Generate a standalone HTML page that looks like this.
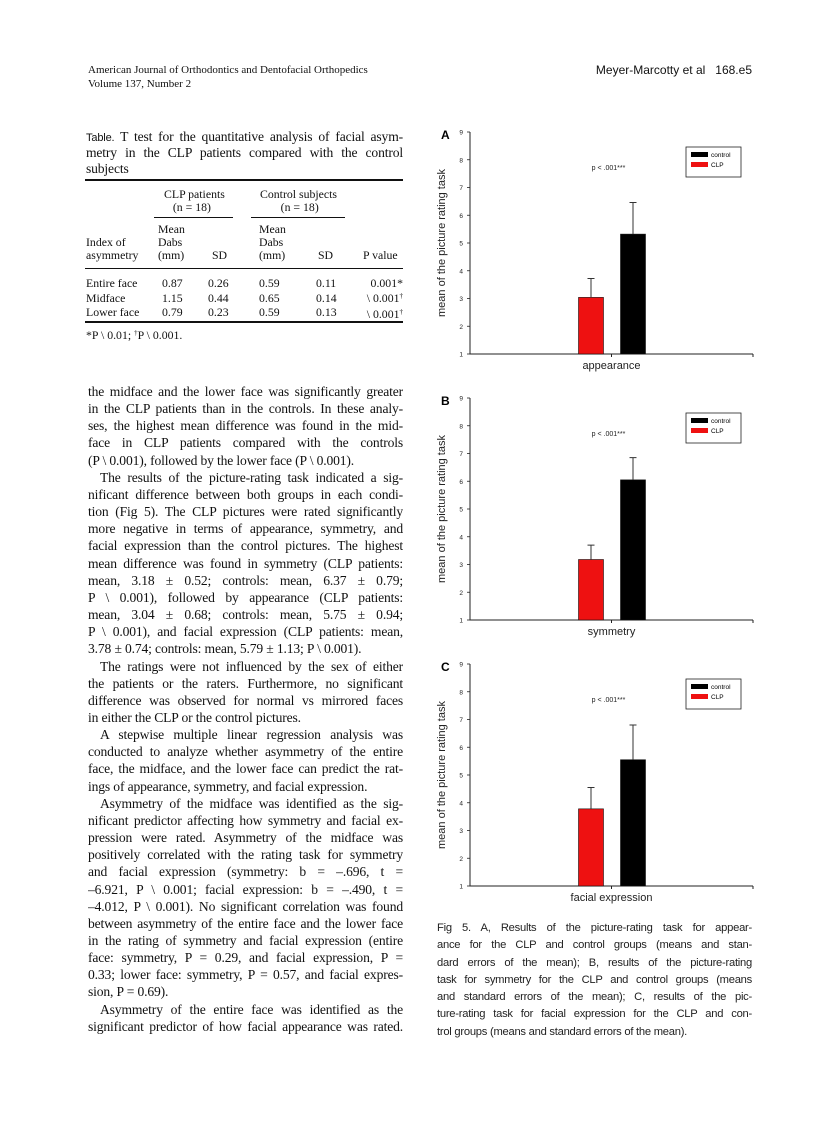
<!DOCTYPE html>
<html><head><meta charset="utf-8">
<style>
body{margin:0;background:#fff;}
#page{position:relative;width:838px;height:1122px;overflow:hidden;background:#fff;font-family:"Liberation Serif",serif;color:#111;}
.hdr{position:absolute;font-size:11px;}
.ln{position:absolute;left:88px;width:315px;height:18px;font-size:13.6px;letter-spacing:-0.15px;text-align:justify;text-align-last:justify;white-space:nowrap;overflow:hidden;line-height:18px;}
#body .ln{position:relative;left:0;height:17.16px;line-height:17.16px;}
#body .ln.i{left:12px;width:303px;}
.ln.e{text-align-last:left;}
.ln.i{left:100px;width:303px;}
#caption{position:absolute;left:437px;top:920px;width:315px;}
.cap{width:315px;height:17.3px;font-family:"Liberation Sans",sans-serif;font-size:11.2px;letter-spacing:-0.25px;text-align:justify;text-align-last:justify;white-space:nowrap;overflow:hidden;line-height:17.3px;color:#222;}
.cap.e{text-align-last:left;}
.t{position:absolute;font-size:11.8px;line-height:13px;white-space:nowrap;}
.rule{position:absolute;background:#111;}
.sp{font-size:7px;position:relative;top:-4px;}
</style></head><body>
<div id="page">
<div class="hdr" style="left:88px;top:64px">American Journal of Orthodontics and Dentofacial Orthopedics</div>
<div class="hdr" style="left:88px;top:78px">Volume 137, Number 2</div>
<div class="hdr" style="right:86px;top:63px;font-family:'Liberation Sans',sans-serif;font-size:12px">Meyer-Marcotty et al&nbsp;&nbsp; 168.e5</div>

<div>
<div class="ln" style="top:128px;left:86px;width:317px"><span style="font-family:'Liberation Sans',sans-serif;font-size:11px">Table.</span> T test for the quantitative analysis of facial asym-</div>
<div class="ln" style="top:144px;left:86px;width:317px">metry in the CLP patients compared with the control</div>
<div class="ln e" style="top:160px;left:86px;width:317px">subjects</div>
<div class="rule" style="left:85px;top:179px;width:318px;height:2px"></div>
<div class="t" style="left:164px;top:188px">CLP patients<br>&nbsp;&nbsp;&nbsp;(n = 18)</div>
<div class="t" style="left:260px;top:188px">Control subjects<br>&nbsp;&nbsp;&nbsp;&nbsp;&nbsp;&nbsp;&nbsp;(n = 18)</div>
<div class="rule" style="left:154px;top:217px;width:79px;height:1px"></div>
<div class="rule" style="left:251px;top:217px;width:94px;height:1px"></div>
<div class="t" style="left:86px;top:236px">Index of<br>asymmetry</div>
<div class="t" style="left:158px;top:223px">Mean<br>Dabs<br>(mm)</div>
<div class="t" style="left:212px;top:249px">SD</div>
<div class="t" style="left:259px;top:223px">Mean<br>Dabs<br>(mm)</div>
<div class="t" style="left:318px;top:249px">SD</div>
<div class="t" style="left:363px;top:249px">P value</div>
<div class="rule" style="left:85px;top:268px;width:318px;height:1px"></div>
<div class="t" style="left:86px;top:276px;line-height:14.5px">Entire face<br>Midface<br>Lower face</div>
<div class="t" style="left:162px;top:276px;line-height:14.5px">0.87<br>1.15<br>0.79</div>
<div class="t" style="left:208px;top:276px;line-height:14.5px">0.26<br>0.44<br>0.23</div>
<div class="t" style="left:259px;top:276px;line-height:14.5px">0.59<br>0.65<br>0.59</div>
<div class="t" style="left:316px;top:276px;line-height:14.5px">0.11<br>0.14<br>0.13</div>
<div class="t" style="right:435px;top:276px;line-height:14.5px;text-align:right">0.001*<br>\ 0.001<span class="sp">†</span><br>\ 0.001<span class="sp">†</span></div>
<div class="rule" style="left:85px;top:321px;width:318px;height:2px"></div>
<div class="t" style="left:86px;top:329px">*P \ 0.01; <span class="sp">†</span>P \ 0.001.</div>
</div>

<div id="body" style="position:absolute;left:88px;top:383px;width:315px">
<div class="ln">the midface and the lower face was significantly greater</div>
<div class="ln">in the CLP patients than in the controls. In these analy-</div>
<div class="ln">ses, the highest mean difference was found in the mid-</div>
<div class="ln">face in CLP patients compared with the controls</div>
<div class="ln e">(P \ 0.001), followed by the lower face (P \ 0.001).</div>
<div class="ln i">The results of the picture-rating task indicated a sig-</div>
<div class="ln">nificant difference between both groups in each condi-</div>
<div class="ln">tion (Fig 5). The CLP pictures were rated significantly</div>
<div class="ln">more negative in terms of appearance, symmetry, and</div>
<div class="ln">facial expression than the control pictures. The highest</div>
<div class="ln">mean difference was found in symmetry (CLP patients:</div>
<div class="ln">mean, 3.18 ± 0.52; controls: mean, 6.37 ± 0.79;</div>
<div class="ln">P \ 0.001), followed by appearance (CLP patients:</div>
<div class="ln">mean, 3.04 ± 0.68; controls: mean, 5.75 ± 0.94;</div>
<div class="ln">P \ 0.001), and facial expression (CLP patients: mean,</div>
<div class="ln e">3.78 ± 0.74; controls: mean, 5.79 ± 1.13; P \ 0.001).</div>
<div class="ln i">The ratings were not influenced by the sex of either</div>
<div class="ln">the patients or the raters. Furthermore, no significant</div>
<div class="ln">difference was observed for normal vs mirrored faces</div>
<div class="ln e">in either the CLP or the control pictures.</div>
<div class="ln i">A stepwise multiple linear regression analysis was</div>
<div class="ln">conducted to analyze whether asymmetry of the entire</div>
<div class="ln">face, the midface, and the lower face can predict the rat-</div>
<div class="ln e">ings of appearance, symmetry, and facial expression.</div>
<div class="ln i">Asymmetry of the midface was identified as the sig-</div>
<div class="ln">nificant predictor affecting how symmetry and facial ex-</div>
<div class="ln">pression were rated. Asymmetry of the midface was</div>
<div class="ln">positively correlated with the rating task for symmetry</div>
<div class="ln">and facial expression (symmetry: b = –.696, t =</div>
<div class="ln">–6.921, P \ 0.001; facial expression: b = –.490, t =</div>
<div class="ln">–4.012, P \ 0.001). No significant correlation was found</div>
<div class="ln">between asymmetry of the entire face and the lower face</div>
<div class="ln">in the rating of symmetry and facial expression (entire</div>
<div class="ln">face: symmetry, P = 0.29, and facial expression, P =</div>
<div class="ln">0.33; lower face: symmetry, P = 0.57, and facial expres-</div>
<div class="ln e">sion, P = 0.69).</div>
<div class="ln i">Asymmetry of the entire face was identified as the</div>
<div class="ln">significant predictor of how facial appearance was rated.</div>
</div>

<div id="caption">
<div class="cap">Fig 5. A, Results of the picture-rating task for appear-</div>
<div class="cap">ance for the CLP and control groups (means and stan-</div>
<div class="cap">dard errors of the mean); B, results of the picture-rating</div>
<div class="cap">task for symmetry for the CLP and control groups (means</div>
<div class="cap">and standard errors of the mean); C, results of the pic-</div>
<div class="cap">ture-rating task for facial expression for the CLP and con-</div>
<div class="cap e">trol groups (means and standard errors of the mean).</div>
</div>

<svg id="charts" width="838" height="1122" style="position:absolute;left:0;top:0"></svg>
</div>
<script>
const panels = ["A","B","C"];
const categories = ["appearance","symmetry","facial expression"];
const clpMeans = [3.04, 3.18, 3.78];
const clpErr = [0.68, 0.52, 0.77];
const controlMeans = [5.32, 6.05, 5.55];
const controlErr = [1.14, 0.80, 1.25];
const yTicks = [1,2,3,4,5,6,7,8,9];
const pLabels = ["p < .001***","p < .001***","p < .001***"];

const svg = document.getElementById('charts');
const NS = 'http://www.w3.org/2000/svg';
const panelTops = [132, 398, 664];
const yMin = 1, yMax = 9, plotH = 222, axX = 470, axR = 753;
function mk(tag, attrs){const e=document.createElementNS(NS,tag);for(const k in attrs)e.setAttribute(k,attrs[k]);svg.appendChild(e);return e;}
function yScale(top, v){return top + (yMax - v)/(yMax - yMin)*plotH;}

panels.forEach((p, i) => {
  const top = panelTops[i], base = yScale(top, yMin);
  let t = mk('text',{x:441,y:top+7,'font-family':'Liberation Sans,sans-serif','font-size':12,'font-weight':'bold'});
  t.textContent = p;
  
  
  let yl = mk('text',{x:0,y:0,transform:`translate(445,${top+plotH/2}) rotate(-90)`,'text-anchor':'middle','font-family':'Liberation Sans,sans-serif','font-size':11,fill:'#222'});
  yl.textContent = 'mean of the picture rating task';
  
  
  let ax = mk('path',{d:`M${axX},${top} V${base} H${axR} M${axR},${base} v3 M${(axX+axR)/2},${base} v3`,stroke:'#222','stroke-width':1,fill:'none'});
  
  
  yTicks.forEach(v => {
    const y = yScale(top, v);
    mk('line',{x1:axX-3,x2:axX,y1:y,y2:y,stroke:'#222','stroke-width':0.8});
    let tl = mk('text',{x:axX-7,y:y+2.5,'text-anchor':'end','font-family':'Liberation Sans,sans-serif','font-size':6.5,fill:'#222'});
    tl.textContent = v;
    
    
  });
  const cx = (axX+axR)/2;
  [[clpMeans[i],clpErr[i],'#ee1111',-33],[controlMeans[i],controlErr[i],'#000',9]].forEach((b,j)=>{
    const yt = yScale(top,b[0]), ye = yScale(top,b[0]+b[1]), x = cx + b[3];
    let r = mk('rect',{x:x,y:yt,width:25,height:base-yt,fill:b[2],stroke:'#111','stroke-width':0.6});
    
    
    let eb = mk('path',{d:`M${x+12.5},${yt} V${ye} M${x+9},${ye} H${x+16}`,stroke:'#333','stroke-width':1,fill:'none'});
    
    
  });
  let xl = mk('text',{x:cx,y:base+15,'text-anchor':'middle','font-family':'Liberation Sans,sans-serif','font-size':11,fill:'#222'});
  xl.textContent = categories[i];
  
  
  let pt = mk('text',{x:cx-3,y:top+38,'text-anchor':'middle','font-family':'Liberation Sans,sans-serif','font-size':7,fill:'#222'});
  pt.textContent = pLabels[i];
  
  
  let lg = mk('rect',{x:686,y:top+15,width:55,height:30,fill:'#fff',stroke:'#222','stroke-width':0.8});
  
  
  mk('rect',{x:691,y:top+20,width:17,height:5,fill:'#000'});
  mk('rect',{x:691,y:top+30,width:17,height:5,fill:'#ee1111'});
  let l1 = mk('text',{x:711,y:top+25,'font-family':'Liberation Sans,sans-serif','font-size':6.5});
  l1.textContent='control';
  
  
  let l2 = mk('text',{x:711,y:top+35,'font-family':'Liberation Sans,sans-serif','font-size':6.5});
  l2.textContent='CLP';
  
  
});
</script>
</body></html>
